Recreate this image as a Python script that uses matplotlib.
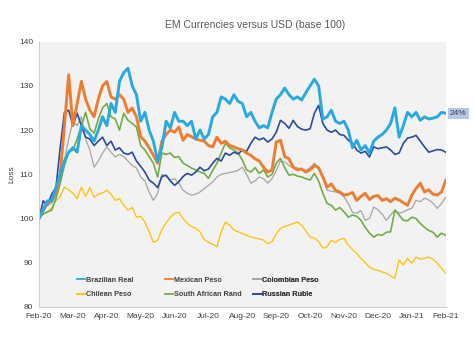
import numpy as np
import matplotlib
matplotlib.use('Agg')
import matplotlib.pyplot as plt

plt.rcParams['font.family'] = ['Liberation Sans', 'DejaVu Sans']

# Month tick labels (x axis runs Feb-20 .. Feb-21, 8 samples per month)
months = ['Feb-20', 'Mar-20', 'Apr-20', 'May-20', 'Jun-20', 'Jul-20', 'Aug-20',
          'Sep-20', 'Oct-20', 'Nov-20', 'Dec-20', 'Jan-21', 'Feb-21']

# Index values (base 100)
brazilian_real = [
    100, 102, 104, 104, 107, 110, 113, 115,
    116, 115, 121, 120, 119, 117.5, 120, 123,
    121, 126, 124, 131, 133, 134, 130, 128,
    122, 124, 120, 117.5, 113, 116, 122, 120.5,
    124, 122, 122, 121, 122, 118, 120, 118,
    119, 123, 124, 127.5, 127, 126, 128, 126.5,
    126, 123, 124, 122, 120.5, 121, 120.5, 124,
    127, 128, 129.5, 128, 127, 127.5, 126.8, 128.5,
    130, 131.5, 130, 122.5, 123, 124.5, 122, 121.5,
    122, 120, 116, 117.7, 115.5, 116.5, 114.8, 117.5,
    118.4, 119, 120, 121.5, 125, 118.4, 121, 124,
    123, 124, 122.2, 123, 122.5, 122.7, 123, 124, 123.8]

mexican_peso = [
    100, 102, 103.5, 104, 106, 110, 121, 132.5,
    121, 126, 131, 127, 124.5, 123, 127, 130,
    131, 127.5, 127, 128, 127, 124, 125, 123,
    118.5, 117.5, 116, 114.3, 112.5, 117.5, 119, 120,
    119.5, 120.7, 117.7, 119, 118.5, 118, 117.7, 117.5,
    116.5, 116.2, 118.4, 117, 117.5, 116.5, 116.2, 115.8,
    115.5, 114.8, 114.3, 113.5, 113, 111.6, 110.5, 111,
    117.3, 117.7, 114, 113.5, 111.6, 111, 111.2, 110.5,
    111, 112, 111.5, 109.4, 107.1, 107.8, 106.4, 106,
    105.3, 105.5, 105.9, 104.1, 105, 105.7, 104.3, 105,
    105.2, 104.1, 104.5, 103.8, 104.6, 104.2, 103.6, 103,
    105.3, 106.8, 108, 106, 106.5, 105.5, 105.3, 106, 108.6]

colombian_peso = [
    100, 101.5, 103, 103.5, 105, 108, 113, 118,
    122, 121, 123, 118, 115.5, 111.6, 113, 114.8,
    116.2, 115, 113.9, 114.5, 114, 113, 112, 111.4,
    109.4, 108.5, 106, 104.1, 105.7, 110, 109.5, 108.7,
    109, 108, 106.4, 105.7, 105.3, 105.5, 106, 106.8,
    107.5, 108.3, 109.4, 110, 110.2, 110.4, 110.6, 110.9,
    111.6, 110, 108, 108.5, 109.4, 109, 108, 109,
    110.8, 113, 112.8, 112, 111.4, 111.5, 111, 110.9,
    111.5, 112.5, 111.5, 109.4, 106.4, 106.2, 106, 105.7,
    104.9, 103.4, 101.4, 101.2, 101.8, 99.6, 100, 102.6,
    102, 101, 99.6, 100.8, 101.9, 101.2, 101.5, 102,
    102.3, 104.1, 103.8, 104.6, 104.2, 103.5, 102.3, 103.4, 104.8]

chilean_peso = [
    100, 101, 101.5, 102.5, 104, 105, 107.1, 106.5,
    105.7, 104.5, 107.1, 105, 107, 104.8, 105.5, 105.8,
    106.4, 105.5, 104.1, 104.5, 103, 101.9, 102.5, 100.3,
    100.5, 99.2, 97, 94.6, 95.1, 97.5, 99, 100.3,
    101.2, 101.4, 100, 98.9, 98.2, 97.8, 97, 95.3,
    94.6, 94.2, 93.6, 97, 99.2, 98.5, 97.4, 97,
    96.6, 96.2, 95.8, 95.6, 95.4, 95.1, 94.3, 94.8,
    96.5, 97.8, 98.2, 98.5, 98.9, 99.2, 98.5, 97.2,
    95.8, 95.6, 94.8, 93.3, 93.6, 95.1, 94.6, 95.3,
    95.5, 94, 93, 92.1, 91, 90, 89, 88.5,
    88.3, 87.9, 87.6, 87, 86.5, 90.6, 89.5, 91,
    89.9, 91.3, 90.8, 91, 91.3, 90.8, 89.9, 88.8, 87.6]

south_african_rand = [
    100, 101, 101.5, 101.9, 104.5, 108, 112, 115,
    115.5, 118, 121, 124, 120.3, 119.3, 122.5, 125,
    126, 123, 122.5, 120, 123.8, 122.2, 121.5, 120.7,
    116.5, 115.5, 114, 112.5, 109.4, 114.8, 114.5, 114.8,
    113.8, 114, 112.5, 112, 111.4, 111, 110.5, 110.2,
    109.1, 110.9, 112.5, 114.8, 117, 116, 115.5, 114.8,
    113.2, 111, 110.5, 111.5, 110.2, 111, 109.4, 110,
    112.5, 113.6, 111.5, 109.8, 110, 109.6, 109.4, 109,
    108.7, 110.2, 108.5, 105.7, 103.4, 103, 101.9, 102.5,
    101.5, 100.3, 100.8, 100.5, 99.6, 98, 96.7, 95.8,
    96.4, 96.2, 96.9, 97, 101.9, 100.8, 99.6, 99.5,
    100.3, 100, 98.9, 98, 97.3, 96.9, 95.8, 96.7, 96.2]

russian_ruble = [
    100, 104, 103, 105.5, 107, 116, 124, 124.5,
    121, 123.8, 121, 118.4, 118, 116.5, 117.5, 118.4,
    116.5, 117.5, 115.5, 116, 114.8, 114.5, 115, 113,
    111.8, 110.5, 108.7, 108, 107, 109.5, 109.8, 108.5,
    107.5, 108.3, 109.5, 110.2, 109.8, 110.5, 111.6, 110.8,
    111.2, 112.5, 113.6, 113, 114.8, 114.3, 115, 114.6,
    115.5, 115.2, 117, 118.4, 117.8, 118.2, 117.3, 118,
    119.5, 122.2, 121.5, 120.4, 122.2, 120.8, 120.2, 120,
    120.3, 123.8, 125.6, 121.5, 120, 119.5, 120, 119,
    118.8, 117.7, 117, 115.5, 114.8, 115.2, 113.9, 116.2,
    115.8, 116, 116.2, 115.5, 114.5, 114.8, 117, 118.2,
    118.4, 118.8, 117.5, 116.2, 115, 115.3, 115.6, 115.5, 115]

t = np.arange(len(brazilian_real)) / 8.0

fig = plt.figure(figsize=(4.74, 3.44), dpi=100)
ax = fig.add_axes([0.0823, 0.1076, 0.858, 0.7714])
ax.set_facecolor('#F2F2F2')

l_cl, = ax.plot(t, chilean_peso, color='#FFC000', lw=0.9, label='Chilean Peso')
l_co, = ax.plot(t, colombian_peso, color='#A5A5A5', lw=0.9, label='Colombian Peso')
l_za, = ax.plot(t, south_african_rand, color='#70AD47', lw=1.2, label='South African Rand')
l_ru, = ax.plot(t, russian_ruble, color='#2B4C9B', lw=1.2, label='Russian Ruble')
l_mx, = ax.plot(t, mexican_peso, color='#ED7D31', lw=2.1, label='Mexican Peso')
l_br, = ax.plot(t, brazilian_real, color='#29A9E1', lw=2.1, label='Brazilian Real')

ax.set_xlim(0, 12)
ax.set_ylim(80, 140)
ax.set_xticks(np.arange(13))
ax.set_xticklabels(months)
ax.set_yticks(np.arange(80, 141, 10))
ax.tick_params(length=0, labelsize=6, colors='#404040', pad=4)

for s in ['top', 'right']:
    ax.spines[s].set_visible(False)
for s in ['left', 'bottom']:
    ax.spines[s].set_color('#D0D0D0')
    ax.spines[s].set_linewidth(0.8)

ax.set_ylabel('Loss', fontsize=6, color='#404040', labelpad=3)

fig.text(0.538, 0.928, 'EM Currencies versus USD (base 100)', ha='center', va='center',
         fontsize=7.5, color='#595959')

# Legend: three fixed-width columns, two rows each
columns = [[l_br, l_cl], [l_mx, l_za], [l_co, l_ru]]
col_x = [0.078, 0.295, 0.512]
for k, hs in enumerate(columns):
    leg = ax.legend(handles=hs, labels=[h.get_label() for h in hs], ncol=1,
                    loc='lower left', bbox_to_anchor=(col_x[k], 0.01), frameon=False,
                    handlelength=1.15, handletextpad=0.1, labelspacing=1.05,
                    borderpad=0.35, prop={'weight': 'bold', 'size': 5.2})
    for txt in leg.get_texts():
        txt.set_color('#404040')
    for h in leg.get_lines():
        h.set_linewidth(1.3)
    ax.add_artist(leg)

# End label for the Brazilian Real
gain = brazilian_real[-1] - 100
ax.annotate('%d%%' % round(gain), xy=(t[-1], brazilian_real[-1]), xytext=(3, 0),
            textcoords='offset points', va='center', ha='left', fontsize=6,
            color='#404040', annotation_clip=False,
            bbox=dict(boxstyle='square,pad=0.25', fc='#B4C7E7', ec='none'))

fig.savefig('out.png', dpi=100)
